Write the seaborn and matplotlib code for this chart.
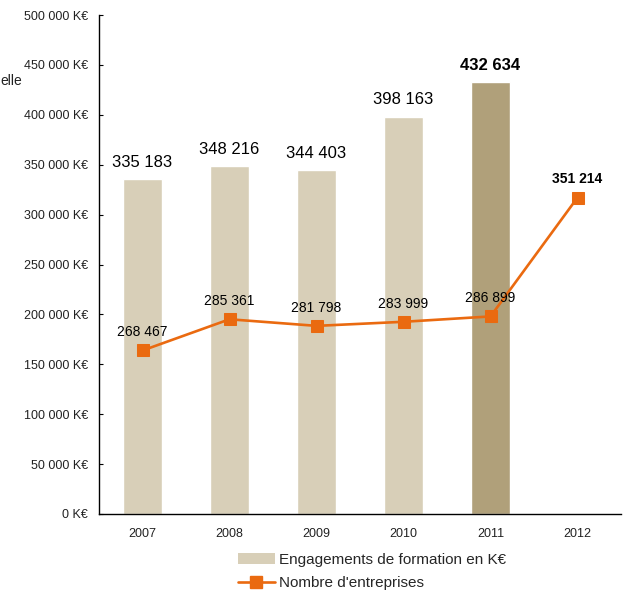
import numpy as np
import pandas as pd
import matplotlib
matplotlib.use("Agg")
import matplotlib.pyplot as plt
from matplotlib.patches import Patch
from matplotlib.lines import Line2D
import seaborn as sns

years = ["2007", "2008", "2009", "2010", "2011", "2012"]
bar_years = ["2007", "2008", "2009", "2010", "2011"]
engagements = [335183, 348216, 344403, 398163, 432634]
entreprises = [268467, 285361, 281798, 283999, 286899, 351214]
bar_labels = ["335 183", "348 216", "344 403", "398 163", "432 634"]
line_labels = ["268 467", "285 361", "281 798", "283 999", "286 899", "351 214"]
yticks = [0, 50000, 100000, 150000, 200000, 250000, 300000, 350000, 400000, 450000, 500000]
ytick_labels = ["0 K€", "50 000 K€", "100 000 K€", "150 000 K€", "200 000 K€", "250 000 K€",
                "300 000 K€", "350 000 K€", "400 000 K€", "450 000 K€", "500 000 K€"]

sns.set_style("white")
plt.rcParams['font.family'] = ['Liberation Sans', 'DejaVu Sans']

light = "#D8CFB8"
dark = "#B0A07A"
orange = "#EA6A10"

fig = plt.figure(figsize=(6.23, 5.92), dpi=100)
ax = fig.add_axes([99/623, 1-514/592, 522/623, 499/592])

df_bar = pd.DataFrame({"year": bar_years, "val": engagements})
pal = {y: (dark if y == "2011" else light) for y in bar_years}
sns.barplot(data=df_bar, x="year", y="val", hue="year", order=years, palette=pal,
            width=0.45, legend=False, ax=ax, saturation=1)

ax.set_xlim(-0.5, 5.5)
ax.set_ylim(0, 500000)
ax.set_yticks(yticks)
ax.set_yticklabels(ytick_labels, fontsize=9, color="#222222")
ax.set_xticks(range(len(years)))
ax.set_xticklabels(years, fontsize=9, color="#222222")
ax.set_xticks(np.arange(0.5, 6.0, 1), minor=True)
ax.tick_params(axis="x", which="major", length=0, pad=10)
ax.tick_params(axis="x", which="minor", length=3, direction="in", color="black")
ax.tick_params(axis="y", length=3, direction="in", color="black", pad=8)
ax.set_xlabel("")
ax.set_ylabel("")
for s in ["top", "right"]:
    ax.spines[s].set_visible(False)
for s in ["left", "bottom"]:
    ax.spines[s].set_color("black")
    ax.spines[s].set_linewidth(1.0)

for i, (v, lab) in enumerate(zip(engagements, bar_labels)):
    ax.annotate(lab, (i, v), xytext=(0, 7), textcoords="offset points", ha="center", va="bottom",
                fontsize=12, fontweight="bold" if i == 4 else "normal", color="black")

ax2 = ax.twinx()
df_line = pd.DataFrame({"x": np.arange(len(years)), "val": entreprises})
sns.lineplot(data=df_line, x="x", y="val", ax=ax2, color=orange, linewidth=1.9,
             marker="s", markersize=9, markeredgecolor=orange, markerfacecolor=orange)
ax2.set_ylim(180000, 450000)
ax2.set_xlim(-0.5, 5.5)
ax2.axis("off")
for i, (v, lab) in enumerate(zip(entreprises, line_labels)):
    ax2.annotate(lab, (i, v), xytext=(0, 8), textcoords="offset points", ha="center", va="bottom",
                 fontsize=10, fontweight="bold" if i == 5 else "normal", color="black")

fig.text(0, 1-81/592, "elle", fontsize=10, ha="left", va="center", color="#222222")

handles = [Patch(facecolor=light, edgecolor="none"),
           Line2D([0], [0], color=orange, linewidth=1.9, marker="s", markersize=8)]
fig.legend(handles, ["Engagements de formation en K€", "Nombre d'entreprises"],
           loc="upper left", bbox_to_anchor=(238/623, 1-553/592), frameon=False,
           fontsize=11, handlelength=2.4, handletextpad=0.3, labelspacing=0.6,
           borderaxespad=0, borderpad=0)

fig.savefig("out.png", dpi=100)
